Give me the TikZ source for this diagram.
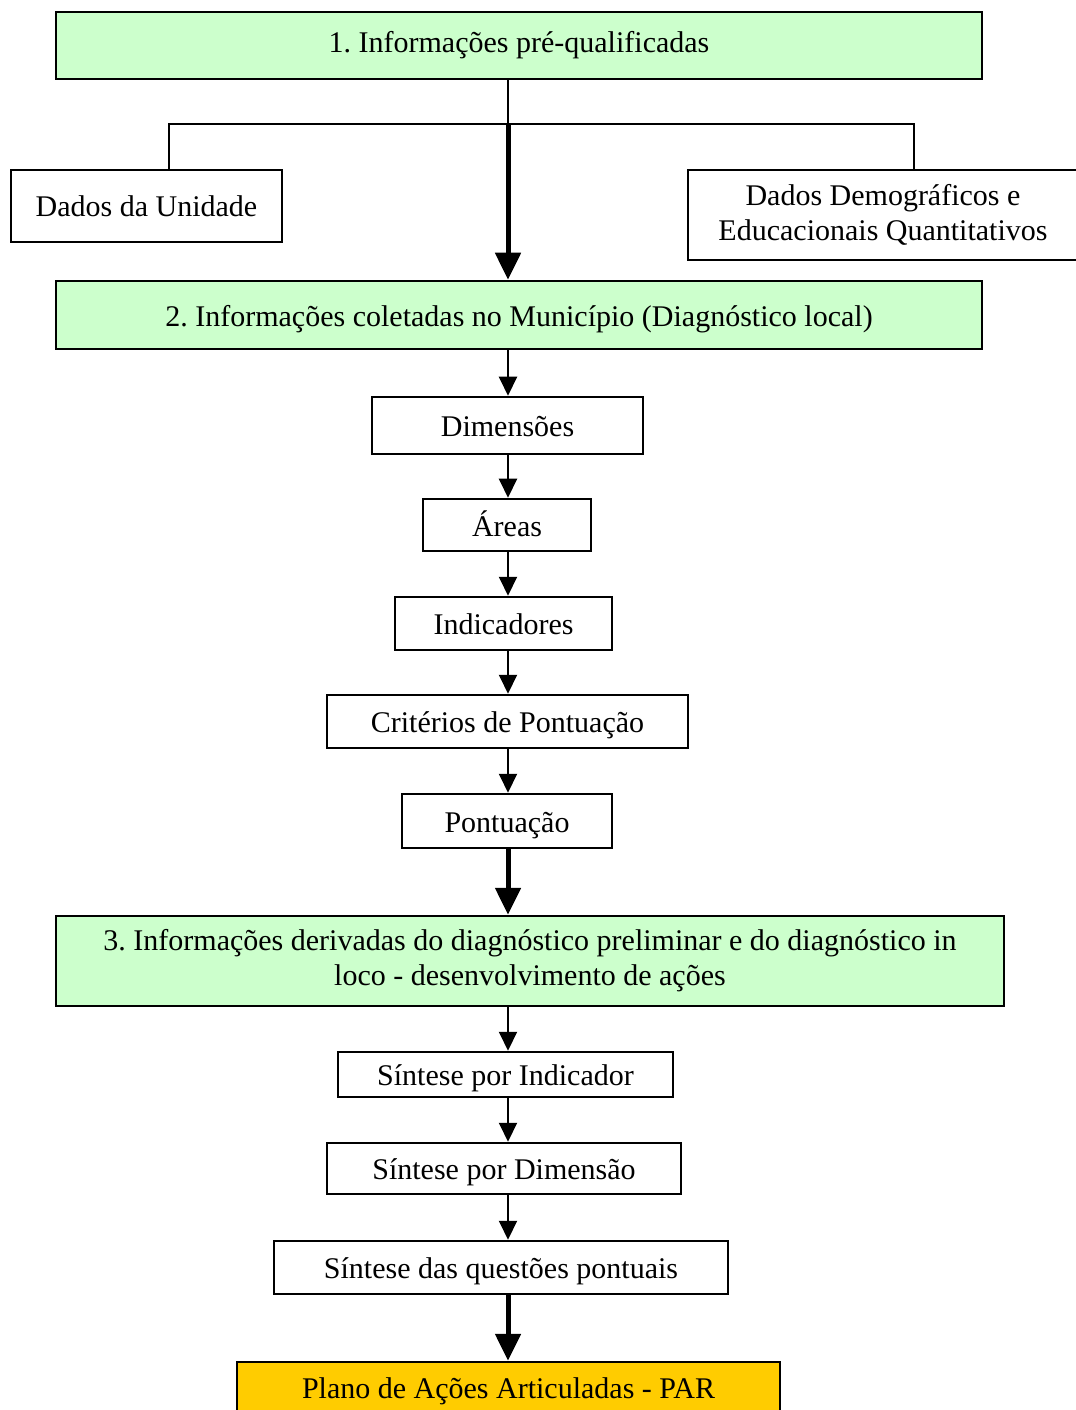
\documentclass[tikz,border=0pt]{standalone}
\usepackage{fontspec}
\setmainfont{Liberation Serif}
\usepackage{tikz}
\usetikzlibrary{arrows.meta}
\definecolor{boxgreen}{HTML}{CCFFCC}
\definecolor{boxgold}{HTML}{FFCC00}
\frenchspacing

\begin{document}
\begin{tikzpicture}[x=0.4pt, y=-0.4pt,
    every node/.style={font=\fontsize{12}{14}\selectfont},
    box/.style={draw, line width=1pt, inner sep=0pt, align=center},
    stage/.style={box, fill=boxgreen},
    lower/.style={text height=12pt, text depth=3pt},
    thin/.style={line width=0.8pt, -{Triangle[length=7.6pt, width=7.2pt]}},
    thick/.style={line width=2pt, -{Triangle[length=10.8pt, width=10pt]}}]
    \useasboundingbox (0, 0) rectangle (1075, 1410);
    \node [stage, minimum width=370.4pt, minimum height=26.8pt] (info1) at (519, 45.5) {1. Informações pré-qualificadas};
    \node [box, minimum width=108.4pt, minimum height=28.8pt] (unidade) at (146.5, 206) {Dados da Unidade};
    \node [box, minimum width=156pt, minimum height=36pt] (demog) at (883, 215) {Dados Demográficos e\\Educacionais Quantitativos};
    \node [stage, lower, minimum width=370.4pt, minimum height=27.2pt] (info2) at (519, 315) {2. Informações coletadas no Município (Diagnóstico local)};
    \node [box, lower, minimum width=108.4pt, minimum height=22.8pt] (dim) at (507.5, 425.5) {Dimensões};
    \node [box, lower, minimum width=67.2pt, minimum height=20.8pt] (areas) at (507, 525) {Áreas};
    \node [box, lower, minimum width=86.8pt, minimum height=21.2pt] (ind) at (503.5, 623.5) {Indicadores};
    \node [box, lower, minimum width=144.4pt, minimum height=21.2pt] (crit) at (507.5, 721.5) {Critérios de Pontuação};
    \node [box, lower, minimum width=84pt, minimum height=21.6pt] (pont) at (507, 821) {Pontuação};
    \node [stage, minimum width=379.2pt, minimum height=36pt] (info3) at (530, 961) {3. Informações derivadas do diagnóstico preliminar e do diagnóstico in\\loco - desenvolvimento de ações};
    \node [box, lower, minimum width=134pt, minimum height=18pt] (sint1) at (505.5, 1074.5) {Síntese por Indicador};
    \node [box, lower, minimum width=141.6pt, minimum height=20.4pt] (sint2) at (504, 1168.5) {Síntese por Dimensão};
    \node [box, lower, minimum width=181.6pt, minimum height=21.2pt] (sint3) at (501, 1267.5) {Síntese das questões pontuais};
    \node [box, fill=boxgold, minimum width=217.2pt, minimum height=23.2pt] (par) at (508.5, 1391) {Plano de Ações Articuladas - PAR};
    \coordinate (spine) at (508, 0);
    \coordinate (fork) at (508, 124);
    \coordinate (forkl) at (169, 124);
    \coordinate (forkr) at (914, 124);
    \draw [line width=0.8pt] (info1.south -| spine) -- (fork);
    \draw [line width=0.8pt] (unidade.north -| forkl) -- (forkl) -- (forkr) -- (demog.north -| forkr);
    \draw [thick] (fork) -- (info2.north -| spine);
    \draw [thin] (info2.south -| spine) -- (dim.north -| spine);
    \draw [thin] (dim.south -| spine) -- (areas.north -| spine);
    \draw [thin] (areas.south -| spine) -- (ind.north -| spine);
    \draw [thin] (ind.south -| spine) -- (crit.north -| spine);
    \draw [thin] (crit.south -| spine) -- (pont.north -| spine);
    \draw [thick] (pont.south -| spine) -- (info3.north -| spine);
    \draw [thin] (info3.south -| spine) -- (sint1.north -| spine);
    \draw [thin] (sint1.south -| spine) -- (sint2.north -| spine);
    \draw [thin] (sint2.south -| spine) -- (sint3.north -| spine);
    \draw [thick] (sint3.south -| spine) -- (par.north -| spine);
  \end{tikzpicture}
\end{document}
